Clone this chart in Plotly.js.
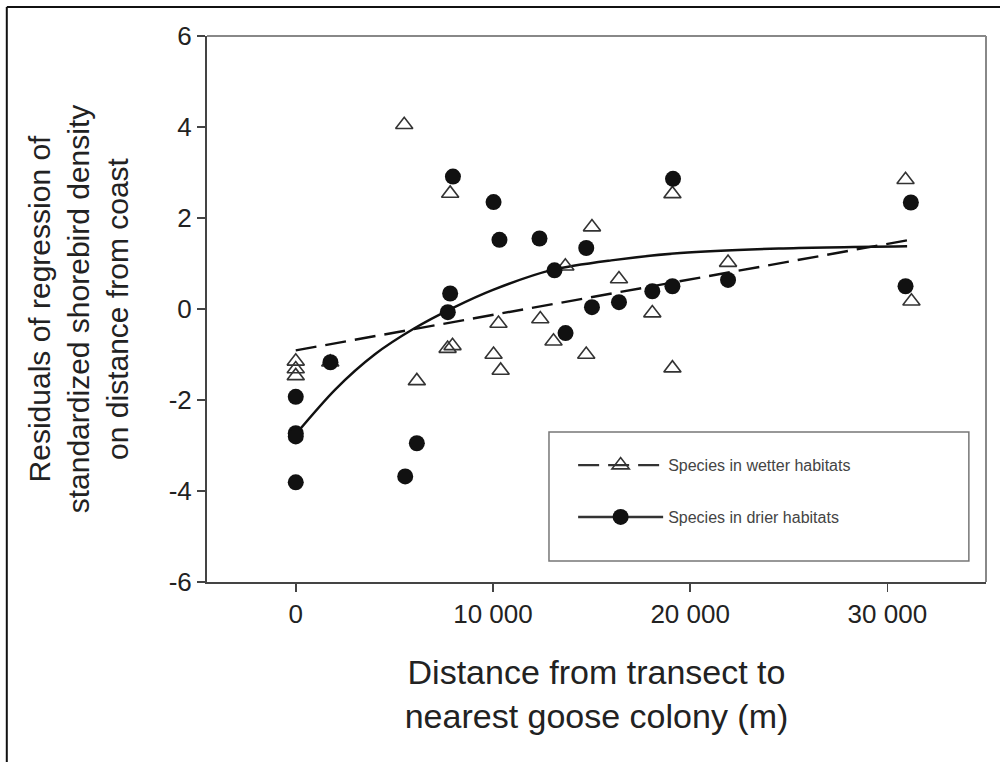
<!DOCTYPE html>
<html>
<head>
<meta charset="utf-8">
<script src="https://cdn.plot.ly/plotly-3.0.1.min.js"></script>
<style>
html,body{margin:0;padding:0;background:#fff;}
#chart{width:1000px;height:762px;}
</style>
</head>
<body>
<div id="chart"></div>
<script>
// Species in wetter habitats (open triangles)
const wetX = [0, 0, 0, 1750, 5500, 6140, 7700, 7830, 7950, 10030, 10280, 10390, 12400, 13070, 13670, 14730, 15020, 16390, 18080, 19100, 19100, 21920, 30920, 31220];
const wetY = [-1.15, -1.32, -1.47, -1.17, 4.05, -1.58, -0.87, 2.54, -0.81, -1.00, -0.32, -1.35, -0.22, -0.71, 0.94, -1.00, 1.80, 0.66, -0.09, 2.53, -1.30, 1.02, 2.84, 0.17];

// Species in drier habitats (filled circles)
const dryX = [0, 0, 0, 0, 1760, 5550, 6140, 7710, 7830, 7970, 10030, 10330, 12360, 13120, 13680, 14730, 15020, 16390, 18080, 19100, 19130, 21920, 30920, 31190];
const dryY = [-1.93, -2.73, -2.80, -3.81, -1.17, -3.68, -2.95, -0.07, 0.34, 2.91, 2.35, 1.52, 1.55, 0.85, -0.53, 1.34, 0.04, 0.15, 0.39, 0.50, 2.86, 0.64, 0.50, 2.34];

// Fitted line for wetter habitats (dashed)
const wetFitX = [0, 31140];
const wetFitY = [-0.91, 1.52];

// Fitted curve for drier habitats (solid)
const dryFitX = [0, 2000, 4000, 6000, 8000, 10000, 13000, 16000, 19500, 24500, 31000];
const dryFitY = [-2.75, -1.77, -1.00, -0.43, 0.03, 0.42, 0.86, 1.07, 1.23, 1.33, 1.38];

// Axis ticks
const xTickVals = [0, 10000, 20000, 30000];
const xTickText = ["0", "10 000", "20 000", "30 000"];
const yTickVals = [-6, -4, -2, 0, 2, 4, 6];
const yTickText = ["-6", "-4", "-2", "0", "2", "4", "6"];

const legendNames = ["Species in wetter habitats", "Species in drier habitats"];

const FONT = "Liberation Sans, Arial, sans-serif";
const DASH = "21px,9px";

const traces = [
  {x: wetFitX, y: wetFitY, mode: "lines", showlegend: false,
   line: {color: "#111", width: 2.4, dash: DASH}, hoverinfo: "skip"},
  {x: dryFitX, y: dryFitY, mode: "lines", showlegend: false,
   line: {color: "#111", width: 2.4, shape: "spline", smoothing: 0.8}, hoverinfo: "skip"},
  {x: wetX, y: wetY, mode: "markers", showlegend: false,
   marker: {symbol: "triangle-up-open", size: 15, color: "#333", line: {width: 1.6, color: "#333"}}},
  {x: dryX, y: dryY, mode: "markers", showlegend: false,
   marker: {symbol: "circle", size: 16, color: "#111"}},
  // legend entries
  {x: [null], y: [null], mode: "lines+markers", name: legendNames[0], legendgroup: "a",
   line: {color: "#333", width: 2.4, dash: DASH},
   marker: {symbol: "triangle-up-open", size: 15, color: "#333", line: {width: 1.6, color: "#333"}}},
  {x: [null], y: [null], mode: "lines+markers", name: legendNames[1], legendgroup: "b",
   line: {color: "#333", width: 2.4},
   marker: {symbol: "circle", size: 16, color: "#111"}}
];

const layout = {
  width: 1000, height: 762,
  margin: {l: 207, r: 14, t: 36, b: 180},
  paper_bgcolor: "#fff", plot_bgcolor: "#fff",
  font: {family: FONT, color: "#222"},
  showlegend: true,
  legend: {
    x: 0.47, y: 0.245, xanchor: "left", yanchor: "top",
    bgcolor: "rgba(0,0,0,0)", borderwidth: 0,
    font: {size: 16, color: "#444", family: FONT},
    itemwidth: 85, tracegroupgap: 28, traceorder: "grouped"
  },
  xaxis: {
    range: [-4500, 35000], showgrid: false, zeroline: false,
    showline: true, linecolor: "#444", linewidth: 2,
    ticks: "outside", ticklen: 8, tickcolor: "#444", tickwidth: 1.5,
    tickvals: xTickVals, ticktext: xTickText,
    tickfont: {size: 26, color: "#222"},
    title: {text: "Distance from transect to<br>nearest goose colony (m)", font: {size: 34, color: "#222"}, standoff: 32}
  },
  yaxis: {
    range: [-6, 6], showgrid: false, zeroline: false,
    showline: true, linecolor: "#444", linewidth: 2,
    ticks: "outside", ticklen: 8, tickcolor: "#444", tickwidth: 1.5,
    tickvals: yTickVals, ticktext: yTickText,
    tickfont: {size: 26, color: "#222"},
    title: {text: "Residuals of regression of<br>standardized shorebird density<br>on distance from coast", font: {size: 30, color: "#222"}, standoff: 31}
  },
  shapes: [
    // plot frame (top & right)
    {type: "line", xref: "paper", yref: "paper", x0: 0, x1: 1, y0: 1, y1: 1, line: {color: "#888", width: 2}},
    {type: "line", xref: "paper", yref: "paper", x0: 1, x1: 1, y0: 0, y1: 1, line: {color: "#888", width: 2}},
    // legend box
    {type: "rect", xref: "paper", yref: "paper", x0: 0.439, x1: 0.978, y0: 0.0385, y1: 0.2747, line: {color: "#777", width: 1.5}},
    // outer figure border (top & left)
    {type: "line", xref: "paper", yref: "paper", x0: -0.257, x1: 1.02, y0: 1.0531, y1: 1.0531, line: {color: "#111", width: 2}},
    {type: "line", xref: "paper", yref: "paper", x0: -0.257, x1: -0.257, y0: -0.33, y1: 1.0531, line: {color: "#111", width: 2}}
  ]
};

Plotly.newPlot("chart", traces, layout, {displayModeBar: false, staticPlot: true});
</script>
</body>
</html>
